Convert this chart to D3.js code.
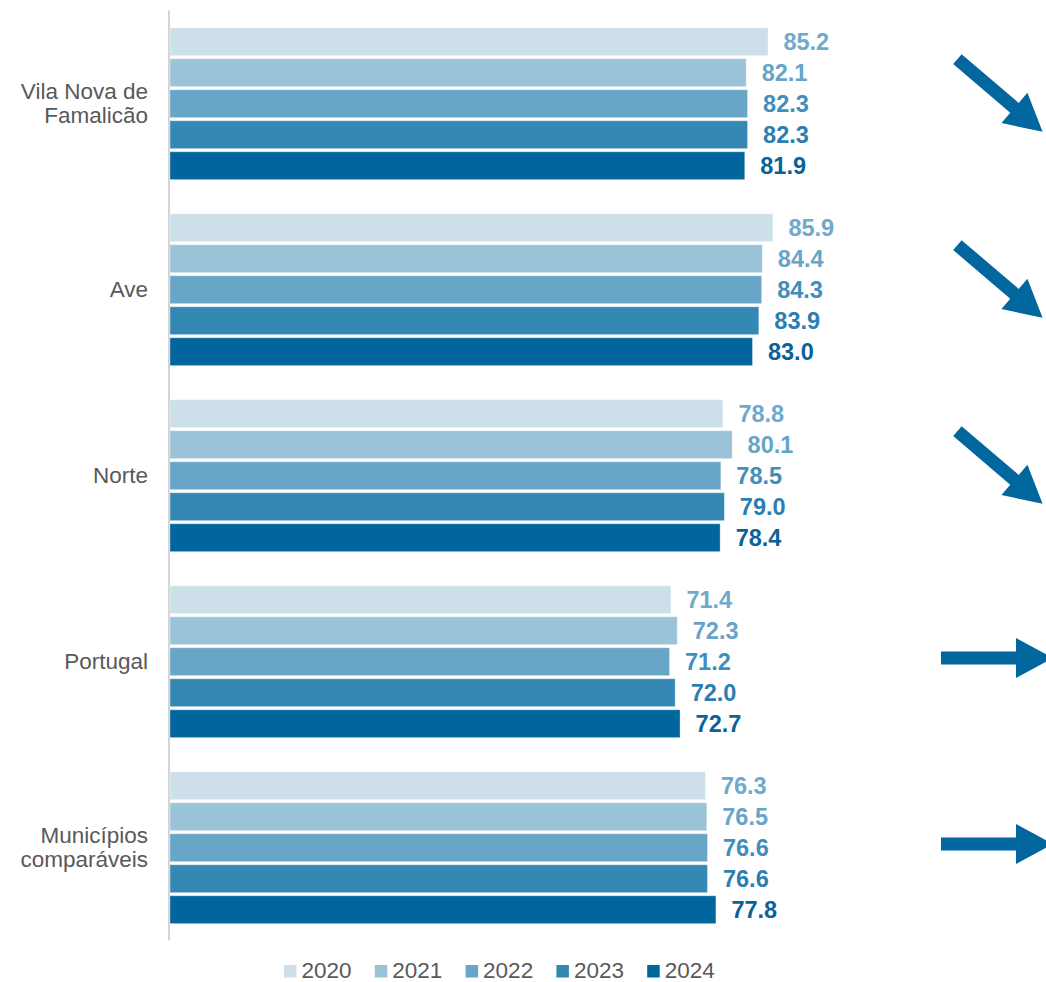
<!DOCTYPE html>
<html>
<head>
<meta charset="utf-8">
<script src="https://cdn.jsdelivr.net/npm/d3@7"></script>
<style>
  html, body { margin: 0; padding: 0; background: #ffffff; }
  svg { display: block; }
  text { font-family: "Liberation Sans", Arial, sans-serif; }
</style>
</head>
<body>
<svg id="chart" width="1046" height="982"></svg>
<script>
const categories = ["Vila Nova de Famalicão", "Ave", "Norte", "Portugal", "Municípios comparáveis"];
const categoryLines = [["Vila Nova de", "Famalicão"], ["Ave"], ["Norte"], ["Portugal"], ["Municípios", "comparáveis"]];
const years = ["2020", "2021", "2022", "2023", "2024"];
const values2020 = [85.2, 85.9, 78.8, 71.4, 76.3];
const values2021 = [82.1, 84.4, 80.1, 72.3, 76.5];
const values2022 = [82.3, 84.3, 78.5, 71.2, 76.6];
const values2023 = [82.3, 83.9, 79.0, 72.0, 76.6];
const values2024 = [81.9, 83.0, 78.4, 72.7, 77.8];
const trends = ["down", "down", "down", "flat", "flat"];

const barColors = ["#cde0ea", "#9ac3d7", "#67a6c6", "#3488b3", "#02669e"];
const labelColors = ["#6fa9cb", "#66a4c8", "#3f8ebc", "#2a7eb1", "#0a6299"];
const arrowColor = "#02669f";

const series = [values2020, values2021, values2022, values2023, values2024];

const svg = d3.select("#chart");

const x = d3.scaleLinear().domain([0, 100]).range([169, 872]);
const y0 = d3.scaleBand().domain(categories).range([10, 940]).paddingInner(0).paddingOuter(0);
const y1 = d3.scaleBand().domain(years).range([16.2, 171.2]).paddingInner(0.1).paddingOuter(0.05);

// axis line (category axis)
const yAxis = d3.axisLeft(y0).tickSize(0).tickFormat("");
const axisG = svg.append("g").attr("transform", "translate(168.5,0)").call(yAxis);
axisG.select(".domain").attr("stroke", "#d4d4d4").attr("stroke-width", 2);

// groups
const groups = svg.selectAll("g.cat")
  .data(categories)
  .enter().append("g")
  .attr("class", "cat")
  .attr("transform", d => `translate(0,${y0(d)})`);

groups.each(function(cat, ci) {
  const g = d3.select(this);
  years.forEach((yr, yi) => {
    const v = series[yi][ci];
    g.append("rect")
      .attr("x", x(0) + 1)
      .attr("y", y1(yr))
      .attr("width", x(v) - x(0) - 1)
      .attr("height", y1.bandwidth())
      .attr("fill", barColors[yi])
      .attr("stroke", "#ffffff")
      .attr("stroke-opacity", 0.35)
      .attr("stroke-width", 1);
    g.append("text")
      .attr("x", x(v) + 15.5)
      .attr("y", y1(yr) + y1.bandwidth() / 2)
      .attr("dy", "0.36em")
      .attr("fill", labelColors[yi])
      .attr("font-size", 23.5)
      .attr("font-weight", "bold")
      .text(v.toFixed(1));
  });

  // category label
  const lines = categoryLines[ci];
  const cy = y0.bandwidth() / 2 - 0.5;
  const lh = 24;
  const t = g.append("text")
    .attr("text-anchor", "end")
    .attr("fill", "#595959")
    .attr("font-size", 22.5);
  lines.forEach((ln, li) => {
    t.append("tspan")
      .attr("x", 148)
      .attr("y", cy + (li - (lines.length - 1) / 2) * lh)
      .attr("dy", "0.36em")
      .text(ln);
  });

  // trend arrow
  const L = 112, sw = 13, hl = 37, hw = 40;
  const arrowPath = `M${-L/2},${-sw/2} L${L/2 - hl},${-sw/2} L${L/2 - hl},${-hw/2} L${L/2},0 L${L/2 - hl},${hw/2} L${L/2 - hl},${sw/2} L${-L/2},${sw/2} Z`;
  const angle = trends[ci] === "down" ? 40.5 : (trends[ci] === "up" ? -40.5 : 0);
  const ay = trends[ci] === "flat" ? cy - 2.5 : cy - 7;
  g.append("path")
    .attr("d", arrowPath)
    .attr("fill", arrowColor)
    .attr("transform", `translate(${trends[ci] === "flat" ? 997 : 1000},${ay}) rotate(${angle})`);
});

// legend
const legend = svg.append("g");
years.forEach((yr, i) => {
  const lx = 284 + i * 90.8;
  legend.append("rect")
    .attr("x", lx).attr("y", 965)
    .attr("width", 12.5).attr("height", 12.5)
    .attr("fill", barColors[i]);
  legend.append("text")
    .attr("x", lx + 17.5).attr("y", 977.5)
    .attr("fill", "#595959")
    .attr("font-size", 22.5)
    .text(yr);
});
</script>
</body>
</html>
